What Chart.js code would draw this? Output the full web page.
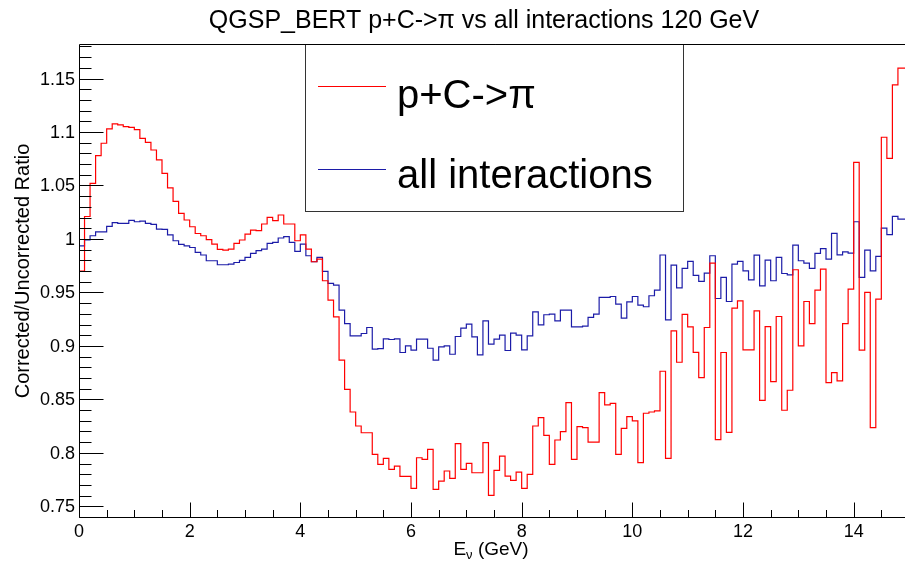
<!DOCTYPE html>
<html>
<head>
<meta charset="utf-8">
<script src="https://cdn.jsdelivr.net/npm/chart.js@4/dist/chart.umd.min.js"></script>
<style>
  html, body { margin: 0; padding: 0; background: #fff; overflow: hidden; }
  #wrap { position: relative; width: 905px; height: 566px; overflow: hidden; background: #fff; }
  #c { position: absolute; left: 0; top: 0; }
</style>
</head>
<body>
<div id="wrap"><canvas id="c" width="912" height="566"></canvas></div>
<script>
// Histogram binning (GeV): 150 bins of 0.1 GeV
const BIN_LOW = 0;
const BIN_HIGH = 15;

const TITLE = 'QGSP_BERT p+C->\u03c0 vs all interactions 120 GeV';
const Y_TITLE = 'Corrected/Uncorrected Ratio';
const LEGEND_LABELS = ['p+C->\u03c0', 'all interactions'];

const xTickLabels = ['0', '2', '4', '6', '8', '10', '12', '14'];
const yTickLabels = ['0.75', '0.8', '0.85', '0.9', '0.95', '1', '1.05', '1.1', '1.15'];

// Corrected/uncorrected ratio per bin, p+C -> pi reweighting only
const pCpi = [
  0.928, 0.970, 1.021, 1.052, 1.078, 1.0895, 1.103, 1.1076, 1.1066, 1.105,
  1.1044, 1.1022, 1.0941, 1.0904, 1.0832, 1.0739, 1.0614, 1.0477, 1.0352, 1.0239,
  1.0177, 1.0114, 1.0051, 1.003, 0.9993, 0.9952, 0.9902, 0.9896, 0.9905, 0.9958,
  0.999, 1.0046, 1.0083, 1.0077, 1.014, 1.0202, 1.0171, 1.0224, 1.014, 1.014,
  0.9983, 1.0039, 0.9905, 0.9787, 0.9812, 0.9609, 0.9428, 0.9272, 0.8866, 0.8594,
  0.8382, 0.8251, 0.8188, 0.8188, 0.7986, 0.7892, 0.7948, 0.7845, 0.7876, 0.778,
  0.778, 0.7668, 0.7954, 0.7939, 0.8033, 0.7658, 0.7736, 0.783, 0.7761, 0.8086,
  0.7845, 0.7902, 0.7814, 0.7814, 0.8095, 0.7602, 0.7836, 0.797, 0.7783, 0.7742,
  0.782, 0.7668, 0.7799, 0.8251, 0.8329, 0.8164, 0.7892, 0.812, 0.8198, 0.847,
  0.7939, 0.8245, 0.8236, 0.8101, 0.8101, 0.8563, 0.8448, 0.8463, 0.7986, 0.8229,
  0.8339, 0.8298, 0.7908, 0.837, 0.8382, 0.8392, 0.8763, 0.7948, 0.9141, 0.8847,
  0.9294, 0.9178, 0.894, 0.8704, 0.9172, 0.9774, 0.8123, 0.8938, 0.8192, 0.9353,
  0.9421, 0.8963, 0.8963, 0.9328, 0.8491, 0.9181, 0.8666, 0.9275, 0.8398, 0.8585,
  0.9712, 0.9, 0.9415, 0.9209, 0.9521, 0.9718, 0.8657, 0.875, 0.8673, 0.9209,
  0.9531, 1.0717, 0.896, 0.95, 0.8236, 0.9437, 1.0951, 1.0754, 1.1441, 1.1597
];

// Corrected/uncorrected ratio per bin, all interactions reweighted
const allInteractions = [
  0.99, 0.9936, 0.999, 1.003, 1.0067, 1.0067, 1.0117, 1.0152, 1.0145, 1.0145,
  1.0174, 1.0161, 1.0167, 1.0145, 1.0136, 1.0092, 1.009, 1.0039, 0.9983, 0.995,
  0.9936, 0.992, 0.9874, 0.985, 0.9796, 0.9796, 0.9759, 0.9759, 0.9765, 0.978,
  0.980, 0.9827, 0.9865, 0.989, 0.9905, 0.9959, 0.9968, 1.0009, 1.0021, 0.9968,
  0.9884, 0.9952, 0.9843, 0.9787, 0.9828, 0.9696, 0.9584, 0.9569, 0.9334, 0.9209,
  0.9094, 0.9094, 0.9116, 0.9172, 0.8969, 0.8975, 0.9066, 0.906, 0.9066, 0.8938,
  0.9, 0.896, 0.9063, 0.9063, 0.8978, 0.8866, 0.8991, 0.9, 0.8922, 0.9088,
  0.9166, 0.9203, 0.9085, 0.8916, 0.9234, 0.9016, 0.9063, 0.91, 0.8957, 0.9119,
  0.91, 0.8963, 0.9094, 0.9319, 0.9197, 0.9291, 0.9297, 0.9234, 0.9334, 0.9334,
  0.9178, 0.9178, 0.9184, 0.9266, 0.9297, 0.9453, 0.9453, 0.9462, 0.939, 0.9259,
  0.9412, 0.9462, 0.9381, 0.9366, 0.9469, 0.9522, 0.985, 0.9244, 0.9756, 0.9543,
  0.9724, 0.979, 0.966, 0.9603, 0.9681, 0.9843, 0.9443, 0.964, 0.9415, 0.9765,
  0.979, 0.9702, 0.9618, 0.9849, 0.9562, 0.9802, 0.9609, 0.9827, 0.9677, 0.9665,
  0.9943, 0.9796, 0.9774, 0.9724, 0.9865, 0.991, 0.9812, 1.0052, 0.9852, 0.988,
  0.9868, 1.0161, 0.964, 0.9896, 0.9702, 0.9837, 1.0102, 1.004, 1.0211, 1.0186
];

const Y_MIN = 0.740;
const Y_MAX = 1.1823;

// Turn bin contents into step points at bin low edges (plus the last high edge)
function histPoints(values) {
  const w = (BIN_HIGH - BIN_LOW) / values.length;
  const pts = values.map((v, i) => ({ x: BIN_LOW + i * w, y: v }));
  pts.push({ x: BIN_HIGH, y: values[values.length - 1] });
  return pts;
}

const FONT = "'Liberation Sans', Arial, Helvetica, sans-serif";
const px = v => Math.round(v) + 0.5;

const frameAndAxes = {
  id: 'rootFrame',
  afterDatasetsDraw(chart) {
    const ctx = chart.ctx;
    const xs = chart.scales.x, ys = chart.scales.y;
    const a = chart.chartArea;
    ctx.save();

    // legend box
    const lx0 = 305, lx1 = 683, ly0 = a.top, ly1 = 211;
    ctx.fillStyle = '#fff';
    ctx.fillRect(lx0, ly0, lx1 - lx0, ly1 - ly0);
    ctx.strokeStyle = '#333';
    ctx.lineWidth = 1;
    ctx.strokeRect(px(lx0), px(ly0), lx1 - lx0, ly1 - ly0);

    const entries = [
      { color: '#ff0000', y: 86, base: 108, label: LEGEND_LABELS[0] },
      { color: '#1c1ca8', y: 169, base: 188, label: LEGEND_LABELS[1] }
    ];
    ctx.font = '40px ' + FONT;
    ctx.textAlign = 'left';
    ctx.textBaseline = 'alphabetic';
    entries.forEach(e => {
      ctx.strokeStyle = e.color;
      ctx.beginPath();
      ctx.moveTo(318, px(e.y));
      ctx.lineTo(386, px(e.y));
      ctx.stroke();
      ctx.fillStyle = '#000';
      ctx.fillText(e.label, 397, e.base);
    });

    // frame
    ctx.strokeStyle = '#000';
    ctx.lineWidth = 1;
    ctx.beginPath();
    ctx.moveTo(px(a.left), px(a.top));
    ctx.lineTo(a.right + 2, px(a.top));
    ctx.moveTo(px(a.left), px(a.top));
    ctx.lineTo(px(a.left), px(a.bottom));
    ctx.lineTo(a.right + 2, px(a.bottom));
    ctx.moveTo(px(a.right), px(a.top));
    ctx.lineTo(px(a.right), px(a.bottom));
    ctx.stroke();

    // y ticks: major every 0.05, minor every 0.01
    ctx.beginPath();
    for (let k = Math.ceil(Y_MIN * 100 - 1e-6); k <= Math.floor(Y_MAX * 100 + 1e-6); k++) {
      const y = px(ys.getPixelForValue(k / 100));
      const len = (k % 5 === 0) ? 24 : 12;
      ctx.moveTo(px(a.left), y);
      ctx.lineTo(px(a.left) + len, y);
    }
    // x ticks: major every 2, minor every 0.5
    for (let k = 0; k <= (BIN_HIGH - BIN_LOW) * 2; k++) {
      const v = BIN_LOW + k * 0.5;
      const x = px(xs.getPixelForValue(v));
      const len = (k % 4 === 0) ? 15 : 7.5;
      ctx.moveTo(x, px(a.bottom));
      ctx.lineTo(x, px(a.bottom) - len);
    }
    ctx.stroke();

    // tick labels
    ctx.fillStyle = '#000';
    ctx.font = '18px ' + FONT;
    ctx.textAlign = 'right';
    ctx.textBaseline = 'middle';
    yTickLabels.forEach(t => {
      ctx.fillText(t, 75, ys.getPixelForValue(parseFloat(t)) + 1);
    });
    ctx.textAlign = 'center';
    ctx.textBaseline = 'alphabetic';
    xTickLabels.forEach(t => {
      ctx.fillText(t, xs.getPixelForValue(parseFloat(t)), 537);
    });

    // x title: E with subscript nu, then unit
    const main = '19px ' + FONT, sub = '13px ' + FONT;
    ctx.font = main; const wE = ctx.measureText('E').width;
    const wU = ctx.measureText(' (GeV)').width;
    ctx.font = sub; const wN = ctx.measureText('\u03bd').width;
    let x0 = 491 - (wE + wN + wU) / 2;
    ctx.textAlign = 'left';
    ctx.font = main; ctx.fillText('E', x0, 555);
    ctx.font = sub; ctx.fillText('\u03bd', x0 + wE, 559);
    ctx.font = main; ctx.fillText(' (GeV)', x0 + wE + wN, 555);

    // y title
    ctx.save();
    ctx.translate(29, 271);
    ctx.rotate(-Math.PI / 2);
    ctx.font = '20px ' + FONT;
    ctx.textAlign = 'center';
    ctx.textBaseline = 'alphabetic';
    ctx.fillText(Y_TITLE, 0, 0);
    ctx.restore();

    // title
    ctx.font = '25px ' + FONT;
    ctx.textAlign = 'center';
    ctx.textBaseline = 'alphabetic';
    ctx.fillText(TITLE, 484, 28);

    ctx.restore();
  }
};

new Chart(document.getElementById('c'), {
  type: 'line',
  data: {
    datasets: [
      {
        label: LEGEND_LABELS[0],
        data: histPoints(pCpi),
        borderColor: '#ff0000',
        borderWidth: 1.2,
        stepped: 'after',
        pointRadius: 0,
        fill: false
      },
      {
        label: LEGEND_LABELS[1],
        data: histPoints(allInteractions),
        borderColor: '#1c1ca8',
        borderWidth: 1.2,
        stepped: 'after',
        pointRadius: 0,
        fill: false
      }
    ]
  },
  options: {
    responsive: false,
    animation: false,
    devicePixelRatio: 1,
    parsing: false,
    layout: { padding: { left: 79, right: 3, top: 44, bottom: 49 } },
    plugins: { legend: { display: false }, title: { display: false }, tooltip: { enabled: false } },
    scales: {
      x: { type: 'linear', min: BIN_LOW, max: BIN_HIGH, display: false },
      y: { type: 'linear', min: Y_MIN, max: Y_MAX, display: false }
    }
  },
  plugins: [frameAndAxes]
});
</script>
</body>
</html>
